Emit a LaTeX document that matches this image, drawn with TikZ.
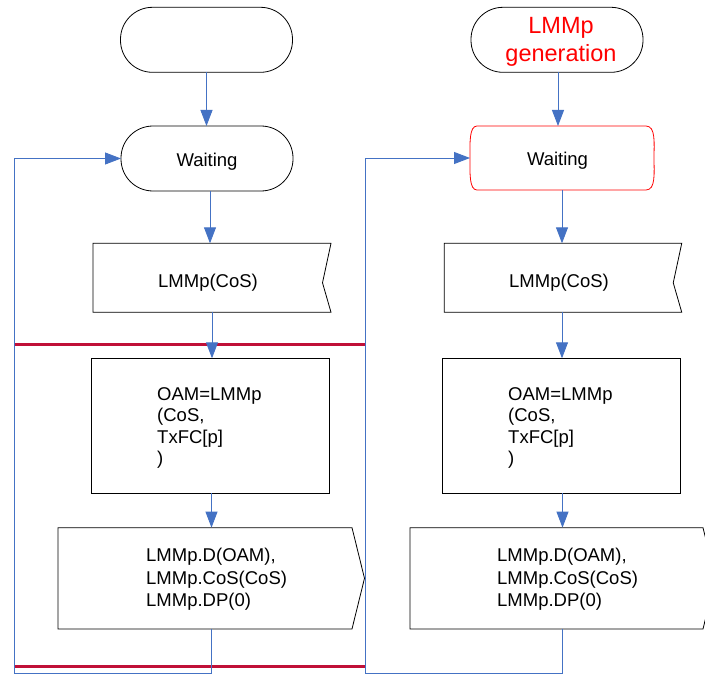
\documentclass[tikz,border=0pt]{standalone}
\usepackage{fontspec}
\setmainfont{Liberation Sans}
\usetikzlibrary{arrows.meta,calc}
\definecolor{flowblue}{RGB}{68,114,196}
\definecolor{barred}{RGB}{192,16,56}
\definecolor{txtred}{RGB}{255,0,0}
\tikzset{
  box/.style={draw=none, rectangle, inner sep=0pt, outer sep=0pt},
  term/.style={draw=black, line width=0.8pt, rectangle, rounded corners=32pt, minimum width=172pt, minimum height=65pt, inner sep=0pt, outer sep=0pt},
  outline/.style={draw=black, line width=0.8pt},
  taskbox/.style={draw=black, line width=0.8pt, rectangle, inner sep=0pt, outer sep=0pt, minimum width=238pt, minimum height=135pt},
  flow/.style={draw=flowblue, line width=0.9pt},
  arr/.style={flow, -{Triangle[length=16pt,width=12pt]}},
  bar/.style={draw=barred, line width=3pt},
  plain/.style={inner sep=0pt, font=\fontsize{18.5}{22}\selectfont},
  tasktext/.style={inner sep=0pt, font=\fontsize{18.5}{21.4}\selectfont, align=left, anchor=west},
  sendtext/.style={inner sep=0pt, font=\fontsize{18.5}{22.6}\selectfont, align=left, anchor=west},
}
\begin{document}
\begin{tikzpicture}[x=1pt,y=-1pt]
\useasboundingbox (0,0) rectangle (705,677);
\clip (0,0) rectangle (705,677);
\fill[white] (0,0) rectangle (705,677);

% ---------- red separator bars ----------
\coordinate (b1a) at (14,344.5);
\coordinate (b1b) at (365,344.5);
\coordinate (b2a) at (14,666.5);
\coordinate (b2b) at (365,666.5);
\draw[bar] (b1a) -- (b1b);
\draw[bar] (b2a) -- (b2b);

% ---------- left column ----------
\node[term] (s1) at (206.5,39.8) {};
\node[term] (w1) at (207,158.5) {};
\node[plain] (w1t) at ([yshift=-3pt]w1.center) {Waiting};

\node[box, minimum width=238pt, minimum height=69pt] (r1) at (212,277.8) {};
\draw[outline] (r1.north west) -- (r1.north east) -- ([xshift=-8.5pt,yshift=-5pt]r1.east) -- (r1.south east) -- (r1.south west) -- cycle;
\node[plain] (r1t) at ([xshift=-4pt,yshift=-5pt]r1.center) {LMMp(CoS)};

\node[taskbox] (t1) at (210,425.8) {};
\node[tasktext] (t1t) at ([xshift=66pt,yshift=-2pt]t1.west) {OAM=LMMp\\(CoS,\\TxFC[p]\\)};

\node[box, minimum width=306.5pt, minimum height=101.3pt] (d1) at (211.25,578.3) {};
\draw[outline] (d1.north west) -- ([xshift=-12.5pt]d1.north east) -- (d1.east) -- ([xshift=-12.5pt]d1.south east) -- (d1.south west) -- cycle;
\node[sendtext] (d1t) at ([xshift=88pt,yshift=-1pt]d1.west) {LMMp.D(OAM),\\LMMp.CoS(CoS)\\LMMp.DP(0)};

% ---------- right column ----------
\node[term] (s2) at (557,39.8) {};
\node[inner sep=0pt, font=\fontsize{23.5}{28.5}\selectfont, text=txtred, align=center] (s2t) at ([xshift=4pt,yshift=-2pt]s2.center) {LMMp\\generation};

\node[box, minimum width=184pt, minimum height=64pt] (w2) at (562,158) {};
\draw[draw=txtred, line width=0.8pt]
  ([xshift=7pt]w2.north west) -- ([xshift=-8pt]w2.north east)
  .. controls ([xshift=2pt]w2.north east) and ([yshift=14pt]w2.east) .. (w2.east)
  .. controls ([yshift=-14pt]w2.east) and ([xshift=2pt]w2.south east) .. ([xshift=-8pt]w2.south east)
  -- ([xshift=7pt]w2.south west)
  .. controls ([xshift=-1pt]w2.south west) and ([yshift=-14pt]w2.west) .. (w2.west)
  .. controls ([yshift=14pt]w2.west) and ([xshift=-1pt]w2.north west) .. cycle;
\node[plain] (w2t) at ([xshift=-4.5pt,yshift=-3pt]w2.center) {Waiting};

\node[box, minimum width=237.5pt, minimum height=69pt] (r2) at (563,277.8) {};
\draw[outline] (r2.north west) -- (r2.north east) -- ([xshift=-8.5pt,yshift=-5pt]r2.east) -- (r2.south east) -- (r2.south west) -- cycle;
\node[plain] (r2t) at ([xshift=-4pt,yshift=-5pt]r2.center) {LMMp(CoS)};

\node[taskbox] (t2) at (561,425.8) {};
\node[tasktext] (t2t) at ([xshift=66pt,yshift=-2pt]t2.west) {OAM=LMMp\\(CoS,\\TxFC[p]\\)};

\node[box, minimum width=305.5pt, minimum height=101.3pt] (d2) at (562.75,578.3) {};
\draw[outline] (d2.north west) -- ([xshift=-12.5pt]d2.north east) -- (d2.east) -- ([xshift=-12.5pt]d2.south east) -- (d2.south west) -- cycle;
\node[sendtext] (d2t) at ([xshift=87pt,yshift=-1pt]d2.west) {LMMp.D(OAM),\\LMMp.CoS(CoS)\\LMMp.DP(0)};

% ---------- connectors ----------
\draw[arr] (s1.south) -- (s1.south |- w1.north);
\draw[arr] ([xshift=3pt]w1.south) -- ([xshift=3pt]w1.south |- r1.north);
\draw[arr] (r1.south) -- (r1.south |- t1.north);
\draw[arr] ([xshift=1.5pt]t1.south) -- ([xshift=1.5pt]t1.south |- d1.north);
\coordinate (lc1) at (14,673);
\draw[arr] (d1.south) |- (lc1) |- (w1.west);

\draw[arr] ([xshift=1pt]s2.south) -- ([xshift=1pt]s2.south |- w2.north);
\draw[arr] (w2.south) -- (w2.south |- r2.north);
\draw[arr] ([xshift=-1pt]r2.south) -- ([xshift=-1pt]r2.south |- t2.north);
\draw[arr] ([xshift=1.5pt]t2.south) -- ([xshift=1.5pt]t2.south |- d2.north);
\coordinate (lc2) at (365.5,673);
\draw[arr] (d2.south) |- (lc2) |- (w2.west);
\end{tikzpicture}
\end{document}
